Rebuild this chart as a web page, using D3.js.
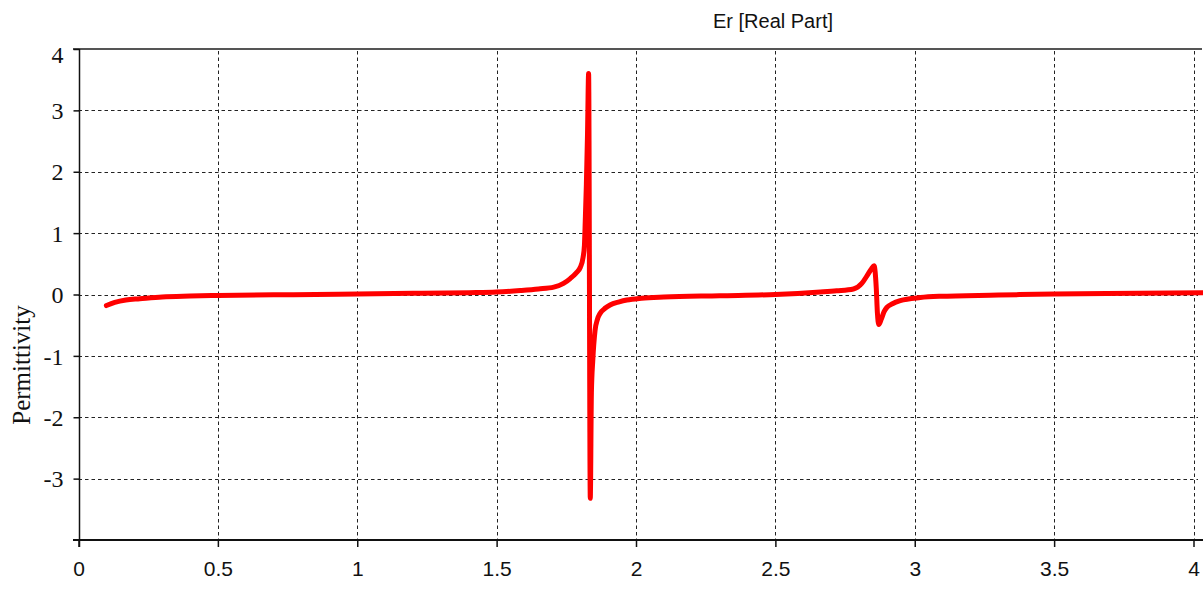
<!DOCTYPE html>
<html>
<head>
<meta charset="utf-8">
<script src="https://cdn.jsdelivr.net/npm/d3@7"></script>
<style>
  html, body { margin: 0; padding: 0; background: #fff; }
  svg { display: block; }
</style>
</head>
<body>
<svg id="chart" width="1203" height="592"></svg>
<script>
// ---- data ----
const freq = [0.10, 0.13, 0.17, 0.22, 0.30, 0.40, 0.50, 0.70, 0.85, 1.00, 1.20, 1.40, 1.50, 1.585, 1.65,
  1.705, 1.74, 1.764, 1.785, 1.80, 1.81, 1.815, 1.818, 1.822, 1.826, 1.830,
  1.836, 1.840, 1.845, 1.853, 1.862, 1.871, 1.89, 1.907, 1.94, 1.967, 2.02, 2.10, 2.30, 2.50,
  2.661, 2.72, 2.78, 2.81, 2.828, 2.845, 2.854, 2.862, 2.866, 2.871, 2.88, 2.89, 2.90, 2.92, 2.948,
  3.02, 3.09, 3.30, 3.50, 3.80, 4.04];
const erReal = [-0.18, -0.13, -0.09, -0.07, -0.04, -0.025, -0.015, -0.005, 0.0, 0.01, 0.02, 0.03, 0.04, 0.065, 0.09,
  0.12, 0.18, 0.26, 0.35, 0.44, 0.60, 0.80, 1.20, 1.80, 2.60, 3.60,
  -3.32, -1.60, -1.07, -0.59, -0.40, -0.31, -0.22, -0.17, -0.12, -0.09, -0.06, -0.04, -0.02, 0.0,
  0.04, 0.06, 0.09, 0.18, 0.30, 0.42, 0.47, 0.10, -0.30, -0.49, -0.40, -0.28, -0.21, -0.15, -0.10,
  -0.05, -0.03, -0.01, 0.01, 0.02, 0.03];
const xTicks = [0, 0.5, 1, 1.5, 2, 2.5, 3, 3.5, 4];
const yTicks = [-3, -2, -1, 0, 1, 2, 3, 4];
const title = "Er [Real Part]";
const yTitle = "Permittivity";

// ---- layout ----
const svg = d3.select("#chart");
const x = d3.scaleLinear().domain([0, 4]).range([78.5, 1193.5]);
const y = d3.scaleLinear().domain([-4, 4]).range([540, 49]);
const plotRight = 1198;

// grid
const grid = svg.append("g");
grid.selectAll("line.h").data(yTicks.filter(d => d !== 4)).join("line")
  .attr("x1", x(0)).attr("x2", plotRight)
  .attr("y1", d => Math.round(y(d)) + 0.5).attr("y2", d => Math.round(y(d)) + 0.5)
  .attr("stroke", "#222").attr("stroke-width", 1).attr("stroke-dasharray", "3.5,3");
grid.selectAll("line.v").data(xTicks.filter(d => d !== 0)).join("line")
  .attr("x1", d => Math.round(x(d)) + 0.5).attr("x2", d => Math.round(x(d)) + 0.5)
  .attr("y1", y(4) + 2).attr("y2", y(-4))
  .attr("stroke", "#222").attr("stroke-width", 1).attr("stroke-dasharray", "3.5,3");

// top border
svg.append("line").attr("x1", 73).attr("x2", 1202).attr("y1", y(4)).attr("y2", y(4))
  .attr("stroke", "#555").attr("stroke-width", 2);

// y axis
const yAxis = svg.append("g").attr("transform", `translate(${Math.round(x(0)) + 0.5},0)`)
  .call(d3.axisLeft(y).tickValues(yTicks).tickSize(6).tickSizeOuter(0).tickPadding(10).tickFormat(d => String(d)));
yAxis.select(".domain").attr("stroke", "#111").attr("stroke-width", 1.5)
  .attr("d", `M0,${y(4)}V${y(-4) + 7}`);
yAxis.selectAll(".tick line").attr("stroke", "#111").attr("stroke-width", 1.5);
yAxis.selectAll(".tick text")
  .attr("font-family", "'Liberation Serif', 'Times New Roman', serif")
  .attr("font-size", 24).attr("fill", "#111")
  .attr("dy", d => d === 4 ? "0.55em" : "0.34em");

// x axis
const xAxis = svg.append("g").attr("transform", `translate(0,${y(-4)})`)
  .call(d3.axisBottom(x).tickValues(xTicks).tickSize(7).tickSizeOuter(0).tickPadding(14).tickFormat(d => String(d)));
xAxis.select(".domain").attr("stroke", "#111").attr("stroke-width", 1.8)
  .attr("d", `M73,0H1203`);
xAxis.selectAll(".tick line").attr("stroke", "#111").attr("stroke-width", 1.5);
xAxis.selectAll(".tick text")
  .attr("font-family", "'Liberation Sans', Arial, sans-serif")
  .attr("font-size", 21).attr("fill", "#111");

// data line
const line = d3.line().x((d, i) => x(freq[i])).y(d => y(d)).curve(d3.curveMonotoneX);
svg.append("path").datum(erReal)
  .attr("d", line)
  .attr("fill", "none").attr("stroke", "#ff0000").attr("stroke-width", 5)
  .attr("stroke-linejoin", "round").attr("stroke-linecap", "round");

// titles
svg.append("text").attr("x", 773).attr("y", 28).attr("text-anchor", "middle")
  .attr("font-family", "'Liberation Sans', Arial, sans-serif").attr("font-size", 20).attr("fill", "#111")
  .text(title);
svg.append("text").attr("transform", "translate(30,365) rotate(-90)").attr("text-anchor", "middle")
  .attr("font-family", "'Liberation Serif', 'Times New Roman', serif").attr("font-size", 25).attr("fill", "#111")
  .text(yTitle);
</script>
</body>
</html>
